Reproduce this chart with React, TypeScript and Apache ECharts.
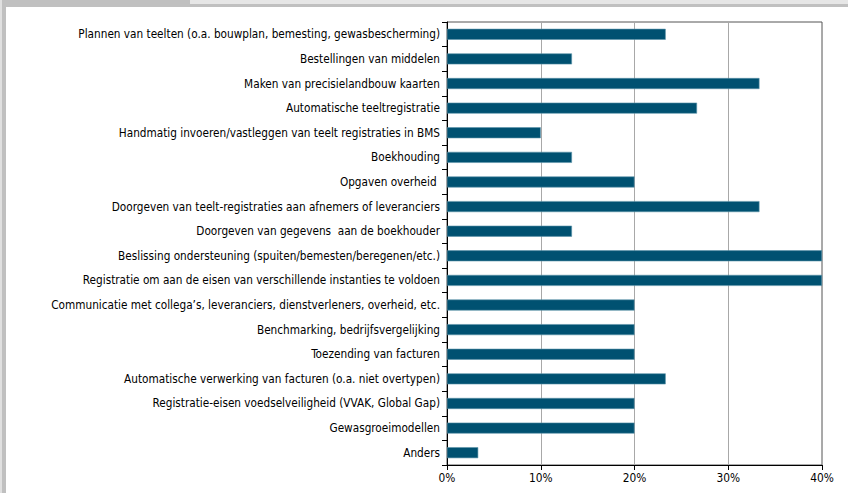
import React, { useEffect, useRef } from "react";
import * as echarts from "echarts";

const categories: string[] = [
  "Plannen van teelten (o.a. bouwplan, bemesting, gewasbescherming)",
  "Bestellingen van middelen",
  "Maken van precisielandbouw kaarten",
  "Automatische teeltregistratie",
  "Handmatig invoeren/vastleggen van teelt registraties in BMS",
  "Boekhouding",
  "Opgaven overheid ",
  "Doorgeven van teelt-registraties aan afnemers of leveranciers",
  "Doorgeven van gegevens  aan de boekhouder",
  "Beslissing ondersteuning (spuiten/bemesten/beregenen/etc.)",
  "Registratie om aan de eisen van verschillende instanties te voldoen",
  "Communicatie met collega’s, leveranciers, dienstverleners, overheid, etc.",
  "Benchmarking, bedrijfsvergelijking",
  "Toezending van facturen",
  "Automatische verwerking van facturen (o.a. niet overtypen)",
  "Registratie-eisen voedselveiligheid (VVAK, Global Gap)",
  "Gewasgroeimodellen",
  "Anders",
];

const values: number[] = [
  23.33, 13.33, 33.33, 26.67, 10, 13.33, 20, 33.33, 13.33, 40, 40, 20, 20, 20,
  23.33, 20, 20, 3.33,
];

const xTicks: number[] = [0, 10, 20, 30, 40];

export default function App() {
  const ref = useRef<HTMLDivElement>(null);
  useEffect(() => {
    document.body.style.margin = "0";
    if (!ref.current) return;
    const chart = echarts.init(ref.current, undefined, { renderer: "svg" });
    const font = "'DejaVu Sans Condensed', sans-serif";
    chart.setOption({
      animation: false,
      backgroundColor: "#ffffff",
      grid: {
        left: 447,
        right: 26,
        top: 22,
        bottom: 28,
        show: true,
        borderColor: "#555555",
        borderWidth: 1,
        containLabel: false,
      },
      graphic: [
        { type: "rect", shape: { x: 0, y: 0, width: 848, height: 7 }, style: { fill: "#c0c0c0" }, silent: true },
        { type: "rect", shape: { x: 190, y: 0, width: 658, height: 4 }, style: { fill: "#e6e6e6" }, silent: true },
        { type: "rect", shape: { x: 0, y: 0, width: 6, height: 493 }, style: { fill: "#c0c0c0" }, silent: true },
        { type: "rect", shape: { x: 0, y: 0, width: 2, height: 493 }, style: { fill: "#e0e0e0" }, silent: true },
      ],
      xAxis: {
        type: "value",
        min: xTicks[0],
        max: xTicks[xTicks.length - 1],
        interval: 10,
        axisLine: { show: true, lineStyle: { color: "#000000", width: 1 } },
        axisTick: { show: true, length: 5, lineStyle: { color: "#000000" } },
        axisLabel: {
          formatter: (v: number) => `${v}%`,
          color: "#000000",
          fontFamily: font,
          fontSize: 11.8,
          margin: 7,
        },
        splitLine: { show: true, lineStyle: { color: "#a8a8a8", width: 1 } },
      },
      yAxis: {
        type: "category",
        data: categories,
        inverse: true,
        axisLine: { show: true, lineStyle: { color: "#000000", width: 1 } },
        axisTick: { show: true, length: 5, lineStyle: { color: "#000000" } },
        axisLabel: {
          color: "#000000",
          fontFamily: font,
          fontSize: 11.7,
          margin: 7,
        },
        splitLine: { show: false },
      },
      series: [
        {
          type: "bar",
          data: values,
          barWidth: 11,
          itemStyle: { color: "#005171", borderColor: "#5d93aa", borderWidth: 0.6 },
        },
      ],
    });
    return () => chart.dispose();
  }, []);
  return (
    <div
      ref={ref}
      style={{ position: "absolute", left: 0, top: 0, width: 848, height: 493 }}
    />
  );
}
